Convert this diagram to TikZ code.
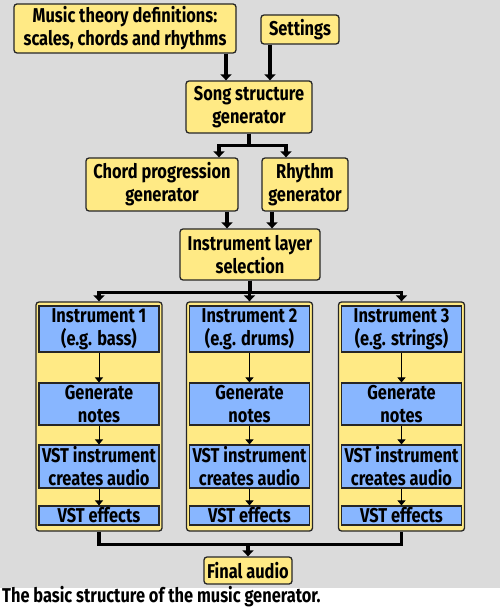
\documentclass[tikz,border=0pt]{standalone}
\usepackage{fontspec}
\setmainfont{Fira Sans}[FakeStretch=0.82]
\usepackage{tikz}
\usetikzlibrary{arrows.meta,positioning}
\definecolor{boxyellow}{RGB}{255,234,133}
\definecolor{boxblue}{RGB}{136,182,255}
\definecolor{backgrey}{RGB}{219,219,219}

\begin{document}
\begin{tikzpicture}[x=1pt,y=1pt,
  font=\fontsize{20}{23}\selectfont\bfseries,
  main node/.style={draw=black!85,fill=boxyellow,line width=1.3pt,rounded corners=3pt,
    align=center,inner sep=0pt},
  lane node/.style={draw=black!85,fill=boxyellow,line width=1.3pt,rounded corners=3pt,
    minimum width=126pt,minimum height=229pt,inner sep=0pt},
  step node/.style={draw=black!85,fill=boxblue,line width=1.1pt,align=center,
    minimum width=120pt,inner sep=0pt},
  big arrow/.style={line width=3.5pt,-{Triangle[length=6pt,width=11pt]}},
  small arrow/.style={line width=1pt,-{Triangle[length=5pt,width=8pt]}}]
    \fill[backgrey] (0,0) rectangle (500,-588);
    \useasboundingbox (0,0) rectangle (500,-609);
    \node[main node,minimum width=222pt,minimum height=49pt] (theory) at (125,-28.5)
      {Music theory definitions:\\scales, chords and rhythms};
    \node[main node,minimum width=78pt,minimum height=29pt] (settings) at (300,-29.5) {Settings};
    \node[main node,minimum width=126pt,minimum height=52pt] (song) at (249,-107)
      {Song structure\\generator};
    \node[main node,minimum width=152pt,minimum height=53pt] (chord) at (162,-184.5)
      {Chord progression\\generator};
    \node[main node,minimum width=86pt,minimum height=53pt] (rhythm) at (305,-184.5)
      {Rhythm\\generator};
    \node[main node,minimum width=140pt,minimum height=51pt] (layer) at (250,-254.5)
      {Instrument layer\\selection};
    \foreach \i/\x/\kind in {1/99/bass,2/249.5/drums,3/401.5/strings}{
      \node[lane node] (lane\i) at (\x,-416.5) {};
      \node[step node,minimum height=46pt] (inst\i) at (\x,-329) {Instrument \i\\(e.g. \kind)};
      \node[step node,minimum height=42pt] (gen\i) at (\x,-404) {Generate\\notes};
      \node[step node,minimum height=43pt] (vst\i) at (\x,-466.5) {VST instrument\\creates audio};
      \node[step node,minimum height=19pt] (fx\i) at (\x,-515.5) {VST effects};
      \draw[small arrow] (inst\i) -- (gen\i);
      \draw[small arrow] (gen\i) -- (vst\i);
      \draw[small arrow] (vst\i) -- (fx\i);
    }
    \node[main node,minimum width=88pt,minimum height=27pt] (final) at (248,-570.5) {Final audio};
    \node[anchor=west,inner sep=0pt] (caption) at (2,-597)
      {The basic structure of the music generator.};
    \draw[big arrow] ([xshift=-23pt]song.north |- theory.south) -- ([xshift=-23pt]song.north);
    \draw[big arrow] ([xshift=21pt]song.north |- settings.south) -- ([xshift=21pt]song.north);
    \draw[big arrow] (song.south) -- ++(0,-12) -| ([xshift=57pt]chord.north);
    \draw[big arrow] (song.south) -- ++(0,-12) -| ([xshift=-19pt]rhythm.north);
    \draw[big arrow] ([xshift=-23pt]layer.north |- chord.south) -- ([xshift=-23pt]layer.north);
    \draw[big arrow] ([xshift=22pt]layer.north |- rhythm.south) -- ([xshift=22pt]layer.north);
    \draw[big arrow] (layer.south) -- ++(0,-12) -| (lane1.north);
    \draw[big arrow] (layer.south) -- ++(0,-12) -| (lane2.north);
    \draw[big arrow] (layer.south) -- ++(0,-12) -| (lane3.north);
    \draw[line width=3.5pt] (lane1.south) -- ++(0,-13) -| (lane3.south);
    \draw[big arrow] (final.north |- 0,-544) -- (final.north);
\end{tikzpicture}
\end{document}
